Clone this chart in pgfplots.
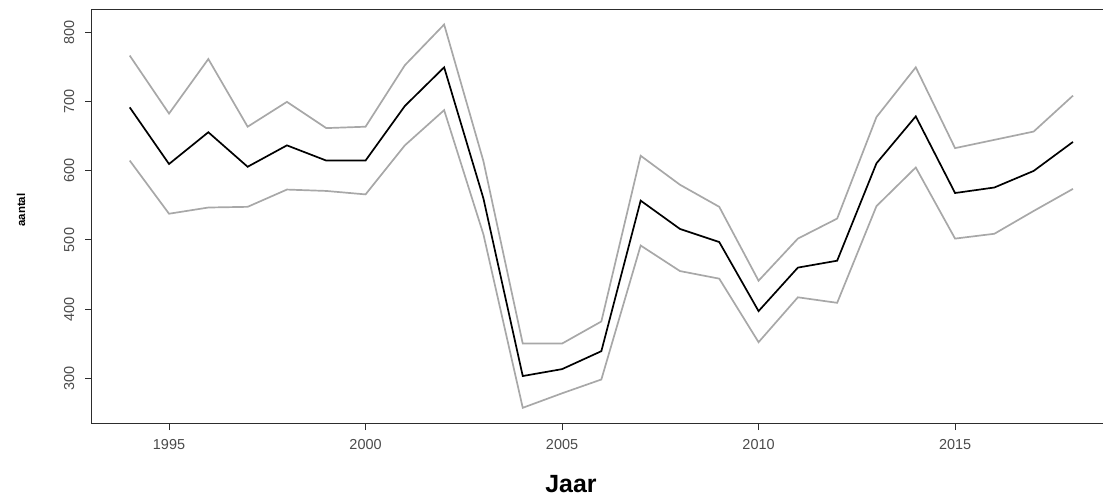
\documentclass[border=0pt]{standalone}
\usepackage{fontspec}
\setmainfont{Liberation Sans}
\usepackage{pgfplots}
\usepackage{pgfplotstable}
\pgfplotsset{compat=1.18}
\definecolor{band}{RGB}{168,168,168}
\definecolor{axc}{RGB}{45,45,45}
\definecolor{tl}{RGB}{75,75,75}

\pgfplotstableread{
year mid lo hi
1994 692 615 767
1995 610 538 683
1996 656 547 762
1997 606 548 664
1998 637 573 700
1999 615 571 662
2000 615 566 664
2001 694 637 753
2002 750 688 812
2003 560 508 614
2004 303 257 350
2005 313 278 350
2006 339 298 382
2007 557 492 622
2008 516 455 580
2009 497 444 548
2010 397 352 441
2011 460 417 502
2012 470 409 531
2013 611 549 678
2014 679 605 750
2015 568 502 633
2016 576 509 645
2017 600 542 657
2018 642 574 709
}\data

\begin{document}
\begin{tikzpicture}
\begin{axis}[
  scale only axis,
  width=1018.7bp, height=413bp,
  xmin=1993.04, xmax=2018.96,
  ymin=235, ymax=833,
  axis line style={draw=axc, line width=1bp},
  xtick={1995,2000,2005,2010,2015},
  ytick={300,400,500,600,700,800},
  tick align=outside,
  tick pos=left,
  major tick length=7bp,
  tick style={axc, line width=1bp},
  /pgf/number format/assume math mode=true,
  xticklabel style={anchor=base, font=\fontsize{14.5}{17}\selectfont, text=tl,
    /pgf/number format/set thousands separator={}},
  yticklabel style={rotate=90, anchor=base, font=\fontsize{14.5}{17}\selectfont, text=tl},
  xticklabel shift=19.3bp,
  yticklabel shift=11bp,
  every axis x label/.style={at={(axis description cs:0.4702,-0.1688)}, anchor=base},
  every axis y label/.style={at={(axis description cs:-0.0697,0.5157)}, rotate=90, anchor=center},
  xlabel={\fontsize{25}{30}\selectfont\bfseries Jaar},
  ylabel={\fontsize{11.5}{14}\selectfont\bfseries aantal},
  extra description/.code={
    \foreach \t in {1995,2000,2005,2010,2015} {
      \draw[axc, line width=1bp] (axis cs:\t,235) -- ++(0,-7bp);
    }
    \foreach \t in {300,400,500,600,700,800} {
      \draw[axc, line width=1bp] (axis cs:1993.04,\t) -- ++(-7bp,0);
    }
  },
]
\addplot[band, line width=1.7bp] table[x=year, y=hi] {\data};
\addplot[band, line width=1.7bp] table[x=year, y=lo] {\data};
\addplot[black, line width=1.7bp] table[x=year, y=mid] {\data};
\end{axis}
\pgfresetboundingbox
\useasboundingbox (-92bp,-75bp) rectangle (1011bp,423bp);
\end{tikzpicture}
\end{document}
